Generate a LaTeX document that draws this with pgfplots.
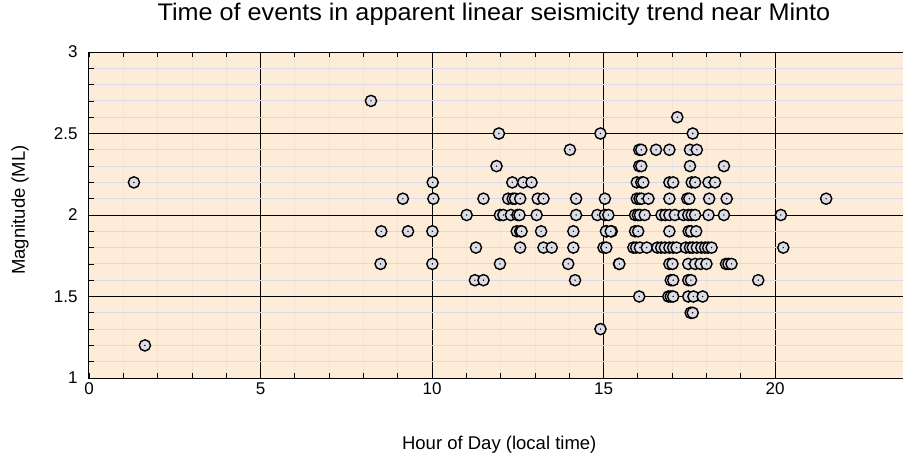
\documentclass[border=0pt]{standalone}
\usepackage{pgfplots}
\pgfplotsset{compat=1.18}
\usepackage{fontspec}
\setmainfont{Liberation Sans}
\newfontfamily\titlefont[FakeStretch=1.05]{Liberation Sans}
\definecolor{bgpeach}{RGB}{252,236,216}
\definecolor{hminor}{RGB}{220,216,236}
\definecolor{vminor}{RGB}{240,228,214}
\definecolor{markfill}{RGB}{220,220,230}
\pgfdeclareplotmark{dotcirc}{%
  \pgfpathcircle{\pgfpointorigin}{\pgfplotmarksize}\pgfusepathqfillstroke
  \begin{pgfscope}%
  \pgfsetfillcolor{black}%
  \pgfpathcircle{\pgfpointorigin}{0.14\pgfplotmarksize}\pgfusepathqfill
  \end{pgfscope}%
}
\begin{document}
\begin{tikzpicture}
\path[use as bounding box] (-89pt,-83pt) rectangle (814pt,378pt);
\begin{axis}[
  scale only axis,
  width=814pt, height=326pt,
  xmin=0, xmax=23.73, ymin=1, ymax=3,
  axis background/.style={fill=bgpeach},
  xtick={0,5,10,15,20},
  ytick={1,1.5,2,2.5,3},
  minor x tick num=4,
  minor y tick num=4,
  tick align=inside,
  major tick length=5pt,
  minor tick length=5pt,
  xtick pos=both, ytick pos=left,
  grid=both,
  major grid style={black, line width=1pt},
  minor x grid style={vminor, line width=0.8pt},
  minor y grid style={hminor, line width=1pt},
  axis line style={black, line width=1pt},
  tick style={black, line width=0.8pt},
  /pgf/number format/assume math mode=true,
  tick label style={font=\fontsize{17}{19}\selectfont},
  xticklabel style={yshift=-1pt},
  yticklabel style={xshift=-8pt},
  y tick label style={/pgf/number format/fixed},
  xlabel={Hour of Day (local time)},
  ylabel={Magnitude (ML)},
  xlabel style={font=\fontsize{18.5}{20}\selectfont, at={(rel axis cs:0.504,0)}, anchor=center, yshift=-67pt},
  ylabel style={font=\fontsize{18.5}{20}\selectfont, at={(rel axis cs:0,0.5)}, anchor=center, xshift=5pt, yshift=69pt},
  title={\titlefont Time of events in apparent linear seismicity trend near Minto},
  title style={font=\fontsize{24}{26}\selectfont, at={(rel axis cs:0.4975,1)}, anchor=base, yshift=26pt},
  clip=false,
]
\addplot[only marks, mark=dotcirc, mark size=5.6pt,
  mark options={fill=markfill, draw=black, line width=1.4pt}] coordinates {
(1.31,2.2) (1.63,1.2) (8.22,2.7) (8.52,1.9) (8.50,1.7) (9.15,2.1) (9.30,1.9)
(10.02,2.2) (10.04,2.1) (10.01,1.9) (10.01,1.7)
(11.01,2.0) (11.28,1.8) (11.25,1.6) (11.50,1.6) (11.50,2.1) (11.88,2.3) (11.95,2.5)
(11.98,1.7) (11.98,2.0) (12.08,2.0) (12.30,2.0) (12.49,2.0) (12.55,2.0) (13.05,2.0)
(12.34,2.2) (12.66,2.2) (12.90,2.2)
(12.22,2.1) (12.35,2.1) (12.42,2.1) (12.57,2.1) (13.08,2.1) (13.25,2.1)
(12.47,1.9) (12.57,1.9) (12.61,1.9) (13.18,1.9)
(12.57,1.8) (13.25,1.8) (13.49,1.8)
(14.02,2.4) (14.91,2.5) (14.20,2.1) (15.04,2.1)
(14.20,2.0) (14.82,2.0) (15.04,2.0) (15.14,2.0)
(14.12,1.9) (15.09,1.9) (15.24,1.9)
(14.12,1.8) (15.00,1.8) (15.08,1.8)
(13.97,1.7) (15.45,1.7) (14.17,1.6) (14.91,1.3)
(17.15,2.6) (17.60,2.5)
(16.04,2.4) (16.10,2.4) (16.53,2.4) (16.92,2.4) (17.52,2.4) (17.72,2.4)
(16.04,2.3) (16.10,2.3) (17.52,2.3) (18.51,2.3)
(15.97,2.2) (16.10,2.2) (16.16,2.2) (16.92,2.2) (17.03,2.2) (17.57,2.2) (17.67,2.2) (18.06,2.2) (18.25,2.2)
(15.97,2.1) (16.05,2.1) (16.11,2.1) (16.31,2.1) (16.92,2.1) (17.44,2.1) (17.50,2.1) (18.08,2.1) (18.59,2.1) (21.49,2.1)
(15.92,2.0) (16.00,2.0) (16.06,2.0) (16.20,2.0) (16.69,2.0) (16.80,2.0) (16.92,2.0) (17.08,2.0) (17.33,2.0) (17.47,2.0) (17.57,2.0) (17.67,2.0) (18.06,2.0) (18.51,2.0) (20.17,2.0)
(15.07,1.9) (15.21,1.9) (15.92,1.9) (16.01,1.9) (16.92,1.9) (17.48,1.9) (17.55,1.9) (17.70,1.9)
(15.87,1.8) (15.95,1.8) (16.06,1.8) (16.26,1.8) (16.57,1.8) (16.68,1.8) (16.79,1.8) (16.92,1.8) (17.03,1.8) (17.13,1.8) (17.40,1.8) (17.52,1.8) (17.60,1.8) (17.72,1.8) (17.85,1.8) (17.96,1.8) (18.05,1.8) (18.15,1.8) (20.24,1.8)
(15.46,1.7) (16.92,1.7) (17.01,1.7) (17.47,1.7) (17.67,1.7) (17.83,1.7) (18.00,1.7) (18.57,1.7) (18.64,1.7) (18.73,1.7)
(16.96,1.6) (17.03,1.6) (17.47,1.6) (17.55,1.6) (19.51,1.6)
(16.04,1.5) (16.89,1.5) (16.96,1.5) (17.03,1.5) (17.47,1.5) (17.62,1.5) (17.89,1.5)
(17.54,1.4) (17.60,1.4)
};
\end{axis}
\end{tikzpicture}
\end{document}
